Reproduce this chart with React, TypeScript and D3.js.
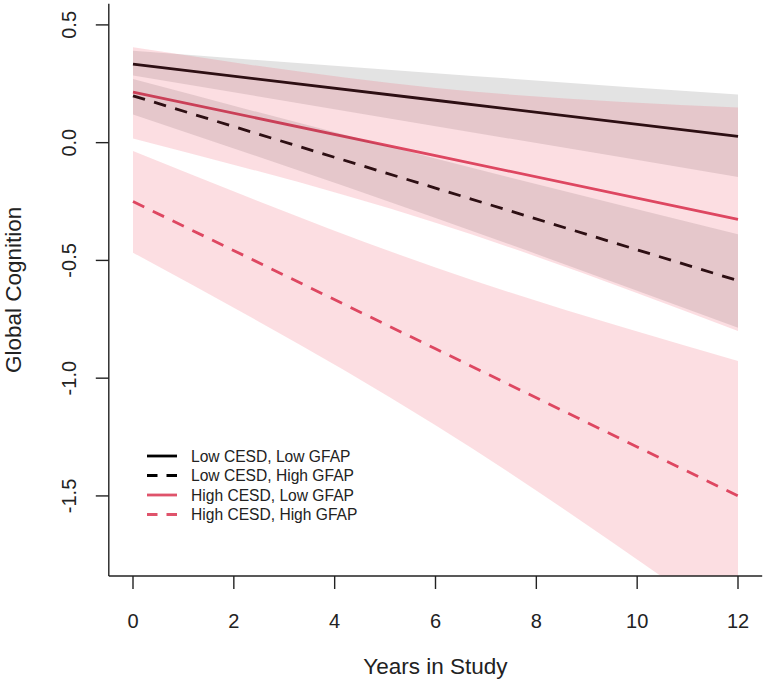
import React from "react";
import * as d3 from "d3";

// ---- data ----
const years = [0, 6, 12];

const seriesNames = [
  "Low CESD, Low GFAP",
  "Low CESD, High GFAP",
  "High CESD, Low GFAP",
  "High CESD, High GFAP",
];

const meanLowLow = [0.333, 0.18, 0.027];
const meanLowHigh = [0.199, -0.193, -0.586];
const meanHighLow = [0.215, -0.055, -0.326];
const meanHighHigh = [-0.25, -0.875, -1.5];

const loLowLow = [0.285, 0.07, -0.146];
const hiLowLow = [0.39, 0.295, 0.204];
const loLowHigh = [0.12, -0.32, -0.786];
const hiLowHigh = [0.27, -0.067, -0.389];
const loHighLow = [0.018, -0.34, -0.8];
const hiHighLow = [0.405, 0.232, 0.149];
const loHighHigh = [-0.467, -1.2, -2.07];
const hiHighHigh = [-0.035, -0.53, -0.927];

const xTicks = [0, 2, 4, 6, 8, 10, 12];
const yTicks = [0.5, 0.0, -0.5, -1.0, -1.5];
const yTickLabels = ["0.5", "0.0", "-0.5", "-1.0", "-1.5"];

const xTitle = "Years in Study";
const yTitle = "Global Cognition";

// ---- styling ----
const W = 767;
const H = 688;
const FONT = "'Liberation Sans', Arial, Helvetica, sans-serif";
const RED = "#DA4561";
const BLACK = "#000000";
const GRAY_FILL = "rgba(0,0,0,0.11)";
const PINK_FILL = "rgba(239,81,102,0.19)";

export default function App() {
  const x = d3.scaleLinear().domain([-0.48, 12.48]).range([108.8, 762.2]);
  const y = d3.scaleLinear().domain([-1.84, 0.59]).range([576, 3.7]);

  const left = x.range()[0];
  const right = x.range()[1];
  const top = y.range()[1];
  const bottom = y.range()[0];

  const lineGen = d3
    .line<[number, number]>()
    .x((d) => x(d[0]))
    .y((d) => y(d[1]));

  const areaGen = d3
    .area<[number, number, number]>()
    .x((d) => x(d[0]))
    .y0((d) => y(d[1]))
    .y1((d) => y(d[2]))
    .curve(d3.curveMonotoneX);

  const series = [
    { name: seriesNames[0], mean: meanLowLow, lo: loLowLow, hi: hiLowLow, color: BLACK, fill: GRAY_FILL, dash: null },
    { name: seriesNames[1], mean: meanLowHigh, lo: loLowHigh, hi: hiLowHigh, color: BLACK, fill: GRAY_FILL, dash: "12.5 9.5" },
    { name: seriesNames[2], mean: meanHighLow, lo: loHighLow, hi: hiHighLow, color: RED, fill: PINK_FILL, dash: null },
    { name: seriesNames[3], mean: meanHighHigh, lo: loHighHigh, hi: hiHighHigh, color: RED, fill: PINK_FILL, dash: "12.5 9.5" },
  ];

  const legendY0 = 456;
  const legendStep = 19.5;

  return (
    <svg
      width={W}
      height={H}
      viewBox={`0 0 ${W} ${H}`}
      style={{ position: "absolute", left: 0, top: 0, background: "#fff" }}
      fontFamily={FONT}
    >
      <defs>
        <clipPath id="plotClip">
          <rect x={left} y={top} width={right - left} height={bottom - top} />
        </clipPath>
      </defs>

      <g clipPath="url(#plotClip)">
        {/* mean lines (drawn below the translucent bands) */}
        {series.map((s, i) => (
          <path
            key={"l" + i}
            d={lineGen(years.map((yr, k) => [yr, s.mean[k]] as [number, number])) || ""}
            fill="none"
            stroke={s.color}
            strokeWidth={2.8}
            strokeDasharray={s.dash || undefined}
          />
        ))}
        {/* confidence bands */}
        {series.map((s, i) => (
          <path
            key={"b" + i}
            d={areaGen(years.map((yr, k) => [yr, s.lo[k], s.hi[k]] as [number, number, number])) || ""}
            fill={s.fill}
            stroke="none"
          />
        ))}
      </g>

      {/* axes box lines (L shape) */}
      <line x1={left} x2={left} y1={top} y2={bottom} stroke="#222" strokeWidth={1.4} />
      <line x1={left} x2={right} y1={bottom} y2={bottom} stroke="#222" strokeWidth={1.4} />

      {/* x ticks */}
      {xTicks.map((t) => (
        <g key={"xt" + t}>
          <line x1={x(t)} x2={x(t)} y1={bottom} y2={bottom + 13} stroke="#222" strokeWidth={1.4} />
          <text x={x(t)} y={628} textAnchor="middle" fontSize={20} fill="#222">
            {String(t)}
          </text>
        </g>
      ))}

      {/* y ticks */}
      {yTicks.map((t, i) => (
        <g key={"yt" + i}>
          <line x1={left - 13} x2={left} y1={y(t)} y2={y(t)} stroke="#222" strokeWidth={1.4} />
          <text
            transform={`translate(76,${y(t)}) rotate(-90)`}
            textAnchor="middle"
            fontSize={20}
            fill="#222"
          >
            {yTickLabels[i]}
          </text>
        </g>
      ))}

      {/* axis titles */}
      <text x={(left + right) / 2} y={674} textAnchor="middle" fontSize={22.5} fill="#222">
        {xTitle}
      </text>
      <text
        transform={`translate(21,${(top + bottom) / 2}) rotate(-90)`}
        textAnchor="middle"
        fontSize={22.5}
        fill="#222"
      >
        {yTitle}
      </text>

      {/* legend */}
      {series.map((s, i) => {
        const ly = legendY0 + i * legendStep;
        return (
          <g key={"lg" + i}>
            <line
              x1={147}
              x2={177}
              y1={ly}
              y2={ly}
              stroke={s.color === RED ? "#DF536B" : BLACK}
              strokeWidth={2.8}
              strokeDasharray={s.dash ? "10.5 9" : undefined}
            />
            <text x={191} y={ly + 5.6} fontSize={15.6} fill="#222">
              {s.name}
            </text>
          </g>
        );
      })}
    </svg>
  );
}
